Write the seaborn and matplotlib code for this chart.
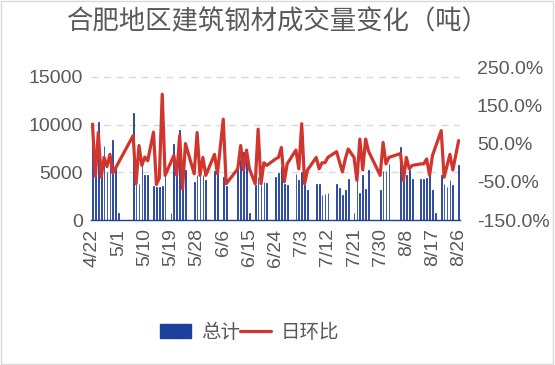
import numpy as np
import pandas as pd
import seaborn as sns
import matplotlib.pyplot as plt
from matplotlib.lines import Line2D
from matplotlib.patches import Patch, Rectangle
from matplotlib.ticker import FuncFormatter

nan = np.nan

# 4/22 .. 8/26, one entry per day (nan = no trading that day)
dates = pd.date_range("2023-04-22", "2023-08-26", freq="D")
date_labels = [f"{d.month}/{d.day}" for d in dates]

total = [
    10200, 4700, 10300, 5000, 7800, 5000, 6800, 8400, 5300, 760,      # 4/22-5/1
    nan, nan, nan, nan, 11200, 5500, 3800, 5700, 4700, 4700,          # 5/2-5/11
    nan, 3600, 3500, 3500, 3600, 4700, nan, 760, 8000, 4850,          # 5/12-5/21
    9400, 3300, 5200, nan, nan, 4000, 4700, 5700, 4700, 4200,         # 5/22-5/31
    nan, nan, 5100, 4850, nan, 4500, 3600, nan, nan, nan,             # 6/1-6/10
    6000, 6250, 7100, 7450, 760, nan, 3650, 4500, 3650, 4000,         # 6/11-6/20
    3900, nan, nan, 4500, 4950, 5600, 3800, 3650, nan, nan,           # 6/21-6/30
    4850, 4150, 5000, 3650, 3200, nan, nan, 3750, 3750, 2600,         # 7/1-7/10
    2700, 2850, nan, nan, 3750, 3400, 2600, 3200, 4350, nan,          # 7/11-7/20
    760, 4950, 2850, 4750, 3300, 5200, nan, nan, nan, 3200,           # 7/21-7/30
    5100, 5100, 5900, nan, nan, nan, 7650, 4600, 4700, 5200,          # 7/31-8/9
    4350, nan, nan, 4350, 4250, 4400, 4850, 3100, 760, nan,           # 8/10-8/19
    4700, 3800, 3450, 4200, 3650, nan, 5800,                          # 8/20-8/26
]

ratio = [
    101, -35, 79, -38, 14, -10, 22, -27, nan, nan,
    nan, nan, nan, nan, 71, -55, 45, -7, 15, 5,
    nan, 80, -57, -40, 179, -33, nan, nan, 19, -33,
    71, -68, 50, nan, nan, -29, 79, -33, 14, -33,
    nan, nan, 22, -29, nan, 114, -55, nan, nan, nan,
    -16, 45, -19, 33, -16, nan, -55, 88, -55, 0,
    -7, nan, nan, 10, 14, 40, -50, -3, nan, nan,
    33, -16, 102, -55, -19, nan, nan, 14, -16, 0,
    0, 14, nan, nan, 29, 2, -24, 10, 36, nan,
    14, -46, 62, -19, 62, 30, nan, nan, nan, -33,
    53, -3, 14, nan, nan, nan, 24, -46, 14, -16,
    -7, nan, nan, -3, -3, 10, -33, 19, nan, nan,
    84, -38, nan, 22, -19, nan, 58,
]

df = pd.DataFrame({"date": date_labels, "total": total, "ratio": ratio})
df["day"] = np.arange(len(df))

bar_color = "#1F3F9C"
line_color = "#D0352E"
text_color = "#595959"

sns.set_style("white")
plt.rcParams["font.family"] = ["Liberation Sans", "Noto Sans CJK SC"]

fig = plt.figure(figsize=(5.55, 3.65), dpi=100)
ax = fig.add_axes([0.164, 0.397, 0.665, 0.419])

sns.barplot(data=df, x="date", y="total", order=date_labels, color=bar_color,
            width=0.25, errorbar=None, ax=ax, saturation=1,
            edgecolor=bar_color, linewidth=0.6)
ax.set_xlim(-0.5, len(df) - 0.5)
ax.set_ylim(0, 16000)
ax.set_yticks([0, 5000, 10000, 15000])
ax.yaxis.grid(True, color="#D9D9D9", linestyle=(0, (5, 4)), linewidth=1)
ax.set_axisbelow(True)
ax.set_xticks(range(0, len(df), 9))
ax.set_xticklabels(date_labels[::9], rotation=90)
ax.tick_params(axis="both", labelsize=14, colors=text_color, length=0, pad=6)
ax.set_xlabel("")
ax.set_ylabel("")
for s in ["top", "right", "left"]:
    ax.spines[s].set_visible(False)
ax.spines["bottom"].set_color(bar_color)
ax.spines["bottom"].set_linewidth(1)

ax2 = ax.twinx()
line_df = df.dropna(subset=["ratio"])
sns.lineplot(data=line_df, x="day", y="ratio", color=line_color, linewidth=2.3,
             ax=ax2)
ax2.set_xlim(-0.5, len(df) - 0.5)
ax2.set_ylim(-150, 250)
ax2.set_yticks([-150, -50, 50, 150, 250])
ax2.yaxis.set_major_formatter(FuncFormatter(lambda v, p: f"{v:.1f}%"))
ax2.tick_params(axis="y", labelsize=14, colors=text_color, length=0, pad=12)
ax2.set_ylabel("")
for s in ["top", "right", "left", "bottom"]:
    ax2.spines[s].set_visible(False)

fig.text(0.5, 0.94, "合肥地区建筑钢材成交量变化（吨）", ha="center", va="center",
         fontsize=19, color=text_color, family=["Noto Sans CJK SC", "DejaVu Sans"])

handles = [Patch(facecolor=bar_color, edgecolor=bar_color),
           Line2D([0], [0], color=line_color, linewidth=2.3)]
fig.legend(handles, ["总计", "日环比"], loc="center", bbox_to_anchor=(0.45, 0.09),
           ncol=2, frameon=False, labelcolor=text_color,
           handlelength=1.6, handletextpad=0.5, columnspacing=0.0,
           prop={"family": ["Noto Sans CJK SC", "DejaVu Sans"], "size": 14})

fig.patches.append(Rectangle((0.002, 0.003), 0.995, 0.994, transform=fig.transFigure,
                             fill=False, edgecolor="#D9D9D9", linewidth=1))

fig.savefig("out.png", dpi=100, facecolor="white")
